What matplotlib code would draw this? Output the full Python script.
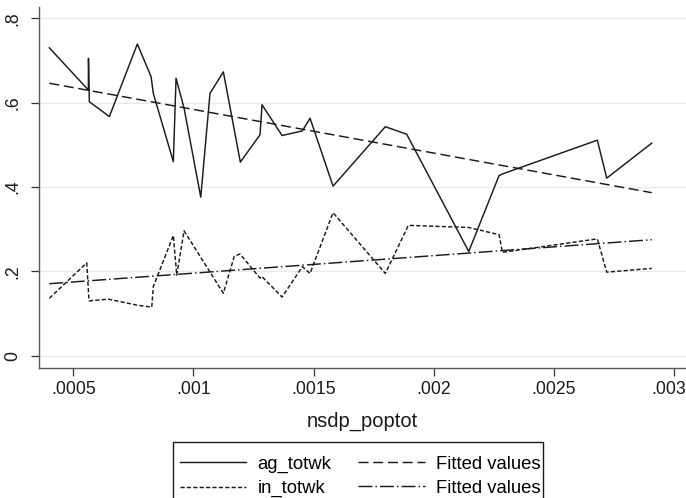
import numpy as np
import matplotlib
matplotlib.use("Agg")
import matplotlib.pyplot as plt
import matplotlib.transforms as mtransforms
from matplotlib.patches import Rectangle

plt.rcParams['font.family'] = ['Liberation Sans', 'DejaVu Sans']
plt.rcParams['lines.scale_dashes'] = False

# ag_totwk series
ag_x = [0.0004, 0.0005625, 0.0005630, 0.0005666, 0.00065, 0.0007665, 0.0008235,
        0.000833, 0.0009164, 0.0009276, 0.000961, 0.0010305, 0.001069, 0.0011246,
        0.0011954, 0.0012774, 0.0012857, 0.001369, 0.0014535, 0.0014856, 0.0015814,
        0.0017991, 0.0018882, 0.0021464, 0.0022726, 0.002287, 0.0026818, 0.002721,
        0.0029084]
ag_y = [0.730, 0.630, 0.705, 0.602, 0.567, 0.739, 0.662,
        0.622, 0.460, 0.658, 0.587, 0.376, 0.622, 0.673,
        0.459, 0.524, 0.595, 0.522, 0.533, 0.563, 0.402,
        0.543, 0.525, 0.247, 0.427, 0.431, 0.511, 0.421,
        0.504]

# in_totwk series
in_x = [0.0004, 0.0005558, 0.0005654, 0.0006457, 0.000764, 0.0008265, 0.000833,
        0.0009164, 0.0009305, 0.000961, 0.0011246, 0.0011704, 0.0011941, 0.0012774,
        0.0012845, 0.001369, 0.0014535, 0.0014856, 0.0015814, 0.0017991, 0.0018949,
        0.0021464, 0.0022726, 0.0022865, 0.0026818, 0.002721, 0.0029084]
in_y = [0.136, 0.220, 0.130, 0.134, 0.120, 0.115, 0.164,
        0.285, 0.191, 0.296, 0.148, 0.236, 0.241, 0.184,
        0.188, 0.139, 0.211, 0.195, 0.339, 0.195, 0.309,
        0.304, 0.287, 0.245, 0.277, 0.198, 0.207]

# fitted values (linear fits, end points)
fit_x = [0.0004, 0.0029084]
fit_ag = [0.646, 0.3865]
fit_in = [0.1707, 0.275]

xticks = [0.0005, 0.001, 0.0015, 0.002, 0.0025, 0.003]
xticklabels = ['.0005', '.001', '.0015', '.002', '.0025', '.003']
yticks = [0, 0.2, 0.4, 0.6, 0.8]
yticklabels = ['0', '.2', '.4', '.6', '.8']

W, H = 686, 498
fig = plt.figure(figsize=(W / 100, H / 100), dpi=100)
ax = fig.add_axes([39 / W, 1 - 367.7 / H, (W - 39) / W, (367.7 - 6.7) / H])

ink = '#1a1a1a'
ax.plot(ag_x, ag_y, color=ink, lw=1.05, label='ag_totwk')
ax.plot(fit_x, fit_ag, color=ink, lw=1.05, dashes=(7.2, 3.4), label='Fitted values')
ax.plot(in_x, in_y, color=ink, lw=1.05, dashes=(3.0, 1.6), label='in_totwk')
ax.plot(fit_x, fit_in, color=ink, lw=1.05, dashes=(10, 2.2, 1.1, 2.2), label='Fitted values')

ax.set_xlim(0.000357, 0.003051)
ax.set_ylim(-0.0285, 0.8275)
ax.set_xticks(xticks)
ax.set_xticklabels(xticklabels)
ax.set_yticks(yticks)
ax.set_yticklabels(yticklabels, rotation=90, va='center')
ax.grid(axis='y', color='#e9e9e9', lw=1.0)
ax.set_axisbelow(True)

for s in ['top', 'right']:
    ax.spines[s].set_visible(False)
for s in ['left', 'bottom']:
    ax.spines[s].set_color('#5a5a5a')
    ax.spines[s].set_linewidth(1.0)
ax.tick_params(axis='both', length=5.5, width=0.9, color='#333333', labelsize=12.7,
               labelcolor=ink)
ax.tick_params(axis='x', pad=4)
ax.tick_params(axis='y', pad=7)
ax.set_xlabel('nsdp_poptot', fontsize=14.5, color=ink, labelpad=10)

# last x label nudged left so it stays inside the figure
last = ax.get_xticklabels()[-1]
last.set_transform(last.get_transform() +
                   mtransforms.ScaledTranslation(-5 / 100, 0, fig.dpi_scale_trans))

# legend box (runs off the bottom edge like the original)
fig.patches.append(Rectangle((173 / W, -0.05), (543 - 173) / W, 0.05 + 1 - 441.7 / H,
                             transform=fig.transFigure, fill=False,
                             edgecolor=ink, lw=1.0))

h, l = ax.get_legend_handles_labels()
order = [0, 2, 1, 3]
leg = fig.legend([h[i] for i in order], [l[i] for i in order], ncol=2,
                 loc='upper left', bbox_to_anchor=(180 / W, 1 - 455.5 / H),
                 fontsize=13.3, frameon=False, handlelength=3.6,
                 handletextpad=0.6, columnspacing=1.45, borderpad=0,
                 labelspacing=0.4, borderaxespad=0)

fig.savefig('out.png', dpi=100)
